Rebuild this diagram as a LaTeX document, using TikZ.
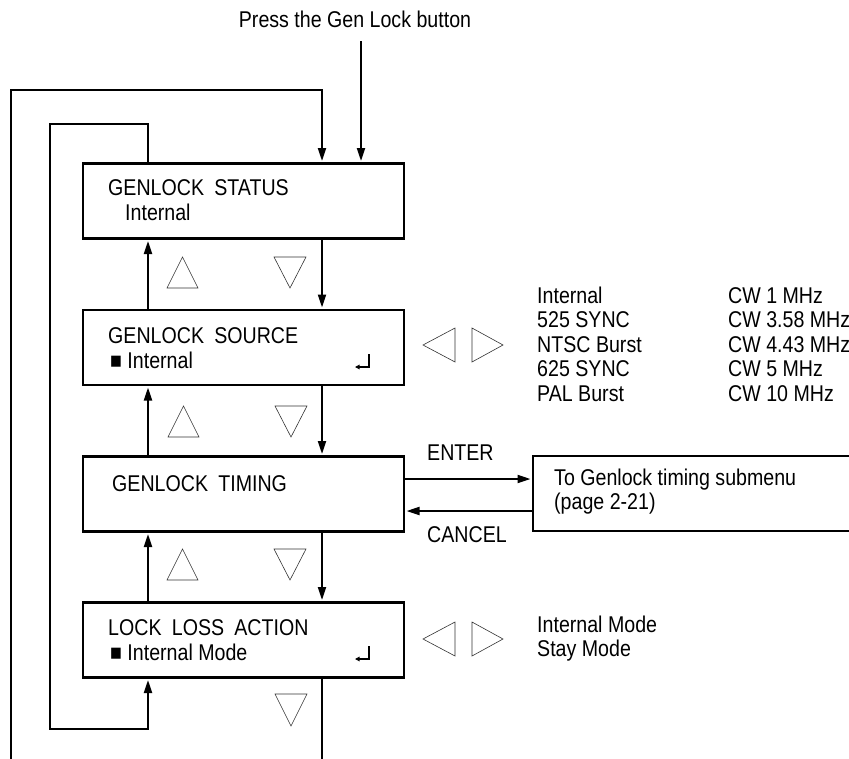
\documentclass[tikz,border=0pt]{standalone}
\usepackage{fontspec}
\setmainfont{Liberation Sans}[FakeStretch=0.86]
\usetikzlibrary{arrows.meta}
\begin{document}
\begin{tikzpicture}[x=1pt,y=-1pt,
  box/.style={draw,line width=2.6pt,minimum width=321pt,minimum height=75pt,inner sep=0pt},
  conn/.style={line width=2pt},
  arr/.style={conn,shorten >=1.2pt,-{Triangle[length=13pt,width=8pt]}},
  tri/.style={draw,line width=0.6pt,black!80},
  ret/.style={line width=1.3pt,-{Triangle[length=4.5pt,width=4.5pt]}},
  txt/.style={anchor=base west,inner sep=0pt,font=\fontsize{22.8}{25}\selectfont},
  ]
\useasboundingbox (0,0) rectangle (849,758);
\clip (0,0) rectangle (849,758);

% menu boxes
\node[box] (status) at (243.5,201) {};
\node[box] (source) at (243.5,347.5) {};
\node[box] (timing) at (243.5,494) {};
\node[box] (lock) at (243.5,640) {};
\node[box,minimum width=340pt] (sub) at (703,493.5) {};

% box texts
\node[txt] (t1) at (108,195) {GENLOCK\hspace{0.45em}STATUS};
\node[txt] (t1b) at (125,220) {Internal};
\node[txt] (t2) at (108,343) {GENLOCK\hspace{0.45em}SOURCE};
\node[txt] (t2b) at (110,368) {■ Internal};
\node[txt] (t3) at (112,491) {GENLOCK\hspace{0.45em}TIMING};
\node[txt] (t4) at (108,635) {LOCK\hspace{0.45em}LOSS\hspace{0.45em}ACTION};
\node[txt] (t4b) at (110,660) {■ Internal Mode};
\node[txt] (s1) at (554,485) {To Genlock timing submenu};
\node[txt] (s2) at (554,509) {(page 2-21)};

% labels
\node[txt,anchor=base] (press) at (355,27) {Press the Gen Lock button};
\node[txt] (enter) at (427,460) {ENTER};
\node[txt] (cancel) at (427,542) {CANCEL};

% option lists
\node[txt] (o1) at (537,303) {Internal};
\node[txt] (o2) at (537,327.5) {525 SYNC};
\node[txt] (o3) at (537,352) {NTSC Burst};
\node[txt] (o4) at (537,376.5) {625 SYNC};
\node[txt] (o5) at (537,401) {PAL Burst};
\node[txt] (c1) at (728,303) {CW 1 MHz};
\node[txt] (c2) at (728,327.5) {CW 3.58 MHz};
\node[txt] (c3) at (728,352) {CW 4.43 MHz};
\node[txt] (c4) at (728,376.5) {CW 5 MHz};
\node[txt] (c5) at (728,401) {CW 10 MHz};
\node[txt] (l1) at (537,632) {Internal Mode};
\node[txt] (l2) at (537,656) {Stay Mode};

% button triangles
\draw[tri] (167,288) -- (198,288) -- (182.5,257) -- cycle;
\draw[tri] (274,257) -- (306,257) -- (290,288) -- cycle;
\draw[tri] (168,437) -- (199,437) -- (183.5,406) -- cycle;
\draw[tri] (275,406) -- (307,406) -- (291,437) -- cycle;
\draw[tri] (167,580) -- (198,580) -- (182.5,549) -- cycle;
\draw[tri] (274,549) -- (306,549) -- (290,580) -- cycle;
\draw[tri] (275,694) -- (307,694) -- (291,726) -- cycle;
\draw[tri] (423,345) -- (455,328) -- (455,362) -- cycle;
\draw[tri] (472,328) -- (472,362) -- (503,345) -- cycle;
\draw[tri] (423,639) -- (455,622) -- (455,656) -- cycle;
\draw[tri] (472,622) -- (472,656) -- (503,639) -- cycle;

% return symbols
\draw[ret] (369,354) |- (355,367);
\draw[ret] (369,646) |- (355,659);

% connectors
\coordinate (dx) at (322,0);
\coordinate (ux) at (148,0);
\draw[arr] (status.south -| dx) -- (source.north -| dx);
\draw[arr] (source.south -| dx) -- (timing.north -| dx);
\draw[arr] (timing.south -| dx) -- (lock.north -| dx);
\draw[arr] (source.north -| ux) -- (status.south -| ux);
\draw[arr] (timing.north -| ux) -- (source.south -| ux);
\draw[arr] (lock.north -| ux) -- (timing.south -| ux);

\coordinate (obot) at (11,762);
\coordinate (otop) at (11,90);
\draw[arr] (obot) -- (otop) -| (status.north -| dx);

\coordinate (pst) at (361,41);
\draw[arr] (pst) -- (status.north -| pst);

\coordinate (itop) at (50,124);
\coordinate (ibot) at (50,729);
\draw[arr] (status.north -| ux) |- (itop) -- (ibot) -| (lock.south -| ux);

\coordinate (dbot) at (322,762);
\draw[conn] (lock.south -| dx) -- (dbot);

\coordinate (ey) at (0,479);
\coordinate (cy) at (0,511);
\draw[arr] (timing.east |- ey) -- (sub.west |- ey);
\draw[arr] (sub.west |- cy) -- (timing.east |- cy);
\end{tikzpicture}
\end{document}
